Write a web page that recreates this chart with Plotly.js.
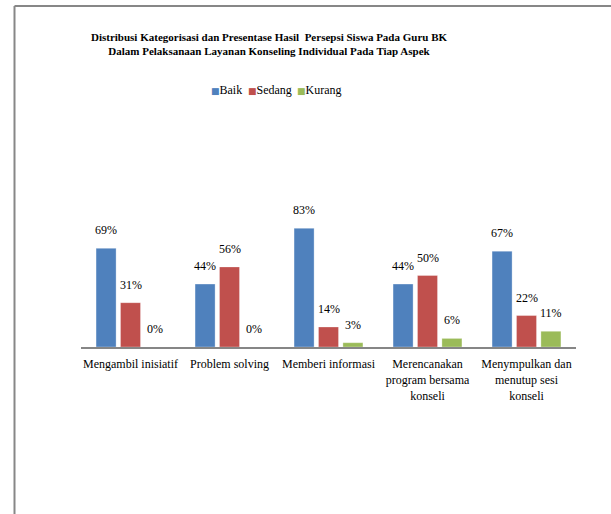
<!DOCTYPE html>
<html>
<head>
<meta charset="utf-8">
<script src="https://cdn.plot.ly/plotly-3.0.1.min.js"></script>
<style>html,body{margin:0;padding:0;background:#fff;}#chart{width:611px;height:514px;}</style>
</head>
<body>
<div id="chart"></div>
<script>
const categories = ['Mengambil inisiatif', 'Problem solving', 'Memberi informasi',
  'Merencanakan<br>program bersama<br>konseli', 'Menympulkan dan<br>menutup sesi<br>konseli'];
const seriesNames = ['Baik', 'Sedang', 'Kurang'];
const baik = [69, 44, 83, 44, 67];
const sedang = [31, 56, 14, 50, 22];
const kurang = [0, 0, 3, 6, 11];
const titleText = 'Distribusi Kategorisasi dan Presentase Hasil  Persepsi Siswa Pada Guru BK<br>Dalam Pelaksanaan Layanan Konseling Individual Pada Tiap Aspek';

const colors = ['#4F81BD', '#C0504D', '#9BBB59'];
const series = [baik, sedang, kurang];
const W = 611, H = 514;
const M = {l: 81, r: 35, t: 204, b: 167};
const pw = W - M.l - M.r, ph = H - M.t - M.b;
const px2x = p => (p - M.l) / pw;
const py2y = p => (H - M.b - p) / ph;
const serif = 'Liberation Serif';

const traces = series.map((vals, i) => ({
  type: 'bar', x: categories, y: vals, name: seriesNames[i],
  marker: {color: colors[i], line: {color: 'rgba(255,255,255,0.6)', width: 0.5}},
  hoverinfo: 'skip', showlegend: false
}));

const catW = pw / categories.length;
const bargap = 0.26, bargroupgap = 0.18;
const slot = catW * (1 - bargap) / series.length;

const annotations = [];
series.forEach((vals, i) => {
  vals.forEach((v, j) => {
    annotations.push({
      x: categories[j], y: v, xref: 'x', yref: 'y',
      text: v + '%', showarrow: false,
      xshift: (i - (series.length - 1) / 2) * slot, yshift: 18,
      yanchor: 'middle', xanchor: 'center',
      font: {family: serif, size: 12, color: '#000'}
    });
  });
});
// legend drawn as text
const legendX = [209, 246, 295];
seriesNames.forEach((n, i) => {
  annotations.push({
    xref: 'paper', yref: 'paper', x: px2x(legendX[i]), y: py2y(90),
    xanchor: 'left', yanchor: 'middle', showarrow: false,
    text: '<span style="font-family:DejaVu Sans;font-size:9px;fill:' + colors[i] + '">■</span>' + n,
    font: {family: serif, size: 12, color: '#000'}
  });
});

const lineCol = '#878787';
const shapes = [
  {type: 'line', xref: 'paper', yref: 'paper', x0: px2x(14.5), x1: px2x(14.5), y0: py2y(6), y1: py2y(530), line: {color: lineCol, width: 2}},
  {type: 'line', xref: 'paper', yref: 'paper', x0: px2x(14.5), x1: px2x(630), y0: py2y(6), y1: py2y(6), line: {color: lineCol, width: 2}}
];

const layout = {
  width: W, height: H, margin: M,
  paper_bgcolor: '#fff', plot_bgcolor: '#fff',
  barmode: 'group', bargap: bargap, bargroupgap: bargroupgap,
  showlegend: false,
  title: {text: titleText, x: 269 / W, xref: 'container', xanchor: 'center',
    y: 1 - 41 / H, yref: 'container', yanchor: 'middle',
    font: {family: serif, size: 11, color: '#000', weight: 'bold'}},
  xaxis: {showline: true, linecolor: '#868686', linewidth: 2, ticks: '', showgrid: false,
    tickfont: {family: serif, size: 12, color: '#000'}, fixedrange: true, ticklabelstandoff: 5},
  yaxis: {range: [0, 100], visible: false, showgrid: false, zeroline: false, fixedrange: true},
  annotations: annotations, shapes: shapes
};

Plotly.newPlot('chart', traces, layout, {displayModeBar: false, staticPlot: true});
</script>
</body>
</html>
